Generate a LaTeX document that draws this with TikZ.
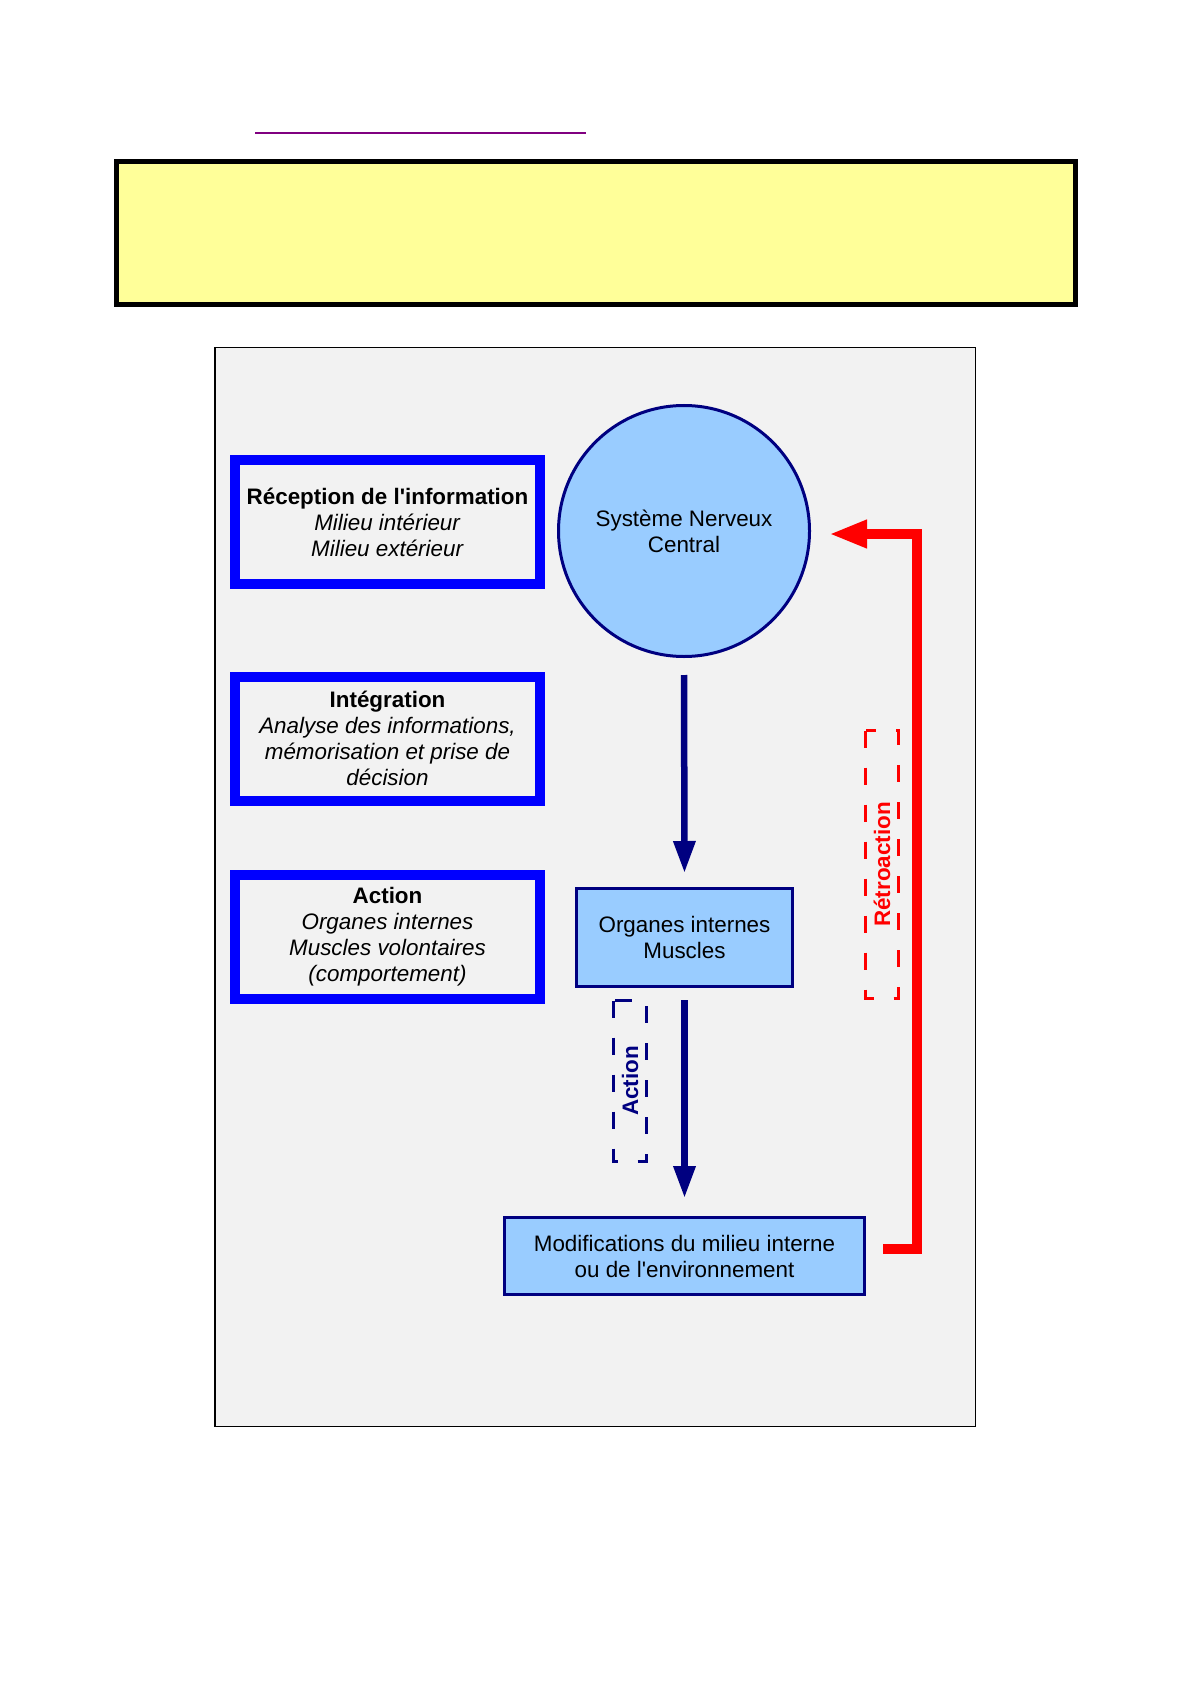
\documentclass[tikz,border=0pt]{standalone}
\usepackage{fontspec}
\setmainfont{Liberation Sans}[Ligatures=TeXOff]
\usetikzlibrary{arrows.meta,calc}
\definecolor{navyc}{HTML}{000080}
\definecolor{lblue}{HTML}{99CCFF}
\definecolor{bbox}{HTML}{0000FF}
\definecolor{pyellow}{HTML}{FFFF99}
\definecolor{pgray}{HTML}{F2F2F2}
\definecolor{ppurple}{HTML}{800080}
\definecolor{rred}{HTML}{FF0000}
\begin{document}
\begin{tikzpicture}[x=0.5pt,y=-0.5pt,
  every node/.style={font=\fontsize{11.2}{13}\selectfont, align=center, inner sep=0pt},
  infobox/.style={draw=bbox, line width=5pt, minimum width=152.5pt, minimum height=62pt},
  lightbox/.style={draw=navyc, line width=1.5pt, fill=lblue},
  navarrow/.style={draw=navyc, line width=3.25pt, -{Triangle[width=10.5pt,length=16pt]}},
  redarrow/.style={draw=rred, line width=5pt, -{Triangle[width=13pt,length=19pt]}},
  dashlabel/.style={line width=1.5pt, dash pattern=on 8.5pt off 10pt, rotate=90,
     minimum height=16.5pt, font=\fontsize{11.2}{13}\selectfont\bfseries}
]
\useasboundingbox (0,0) rectangle (1190,1684);
\fill[white] (0,0) rectangle (1190,1684);

% underline (link)
\coordinate (p0) at (255,133);
\coordinate (p1) at (586,133);
\draw[ppurple, line width=1pt] (p0) -- (p1);

% yellow banner
\node[draw=black, line width=2.5pt, fill=pyellow, minimum width=479.5pt, minimum height=71.5pt] (banner) at (596,233) {};

% gray frame
\node[draw=black, line width=0.75pt, fill=pgray, minimum width=380.25pt, minimum height=539.25pt] (frame) at (595,887) {};

% left boxes
\node[infobox] (rec) at (387.5,522) {\textbf{Réception de l'information}\\\textit{Milieu intérieur}\\\textit{Milieu extérieur}};
\node[infobox] (integ) at (387.5,738.5) {\textbf{Intégration}\\\textit{Analyse des informations,}\\\textit{mémorisation et prise de}\\\textit{décision}};
\node[infobox] (act) at (387.5,937) {\textbf{Action}\\\textit{Organes internes}\\\textit{Muscles volontaires}\\\textit{(comportement)}};

% flow
\node[lightbox, circle, minimum size=125.5pt] (sn) at (684,531) {Système Nerveux\\Central};
\node[lightbox, minimum width=108pt, minimum height=49pt] (org) at (684.5,937.5) {Organes internes\\Muscles};
\node[lightbox, minimum width=180pt, minimum height=38.5pt] (mod) at (684.5,1256) {Modifications du milieu interne\\ou de l'environnement};

\draw[navarrow, shorten <=8.5pt, shorten >=7pt] (sn.south) -- (org.north);
\draw[navarrow, shorten <=6pt, shorten >=9pt] (org.south) -- (mod.north);

% dashed labels
\node[dashlabel, draw=navyc, text=navyc, minimum width=80.5pt] (lact) at (630,1081) {Action};
\node[dashlabel, draw=rred, text=rred, minimum width=134pt] (lretro) at (882,864.5) {Rétroaction};

% feedback
\coordinate (r0) at (883,1249);
\coordinate (r1) at (917,1249);
\coordinate (r2) at (917,534);
\draw[redarrow, shorten >=9pt] (r0) -- (r1) -- (r2) -- (r2 -| sn.east);
\end{tikzpicture}
\end{document}
